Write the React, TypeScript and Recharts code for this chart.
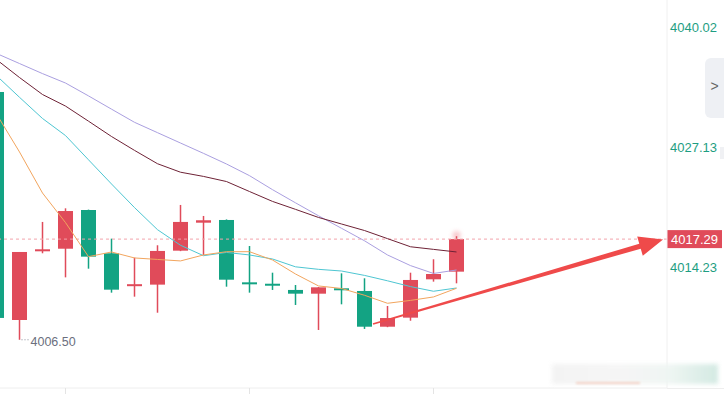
import React from "react";
import {
  ComposedChart,
  Bar,
  Line,
  XAxis,
  YAxis,
  ReferenceLine,
  ReferenceDot,
} from "recharts";

const RED = "#e04b5a";
const GREEN = "#13a383";
const AXIS_GREEN = "#1e9e82";

// candle index (x position)
const slots = [0, 1, 2, 3, 4, 5, 6, 7, 8, 9, 10, 11, 12, 13, 14, 15, 16, 17, 18, 19, 20];
const opens = [
  4033.06, 4008.62, 4016.04, 4016.26, 4020.41, 4015.77, 4012.3, 4012.41, 4016.05, 4019.05,
  4019.34, 4012.6, 4012.45, 4011.84, 4011.44, 4011.95, 4011.73, 4007.9, 4008.87, 4012.98, 4013.8,
];
const closes = [
  4008.84, 4015.91, 4016.14, 4020.3, 4015.41, 4011.87, 4012.4, 4016.02, 4019.13, 4019.31,
  4012.94, 4012.5, 4012.35, 4011.44, 4012.12, 4011.87, 4007.9, 4008.83, 4012.91, 4013.55, 4017.29,
];
const highs = [
  4033.3, 4015.91, 4019.13, 4020.59, 4020.45, 4017.34, 4015.3, 4016.63, 4020.95, 4019.77,
  4019.4, 4016.55, 4013.69, 4012.37, 4012.15, 4013.62, 4013.09, 4010.12, 4013.69, 4015.13, 4017.6,
];
const lows = [
  4008.6, 4006.5, 4015.77, 4013.19, 4014.12, 4011.55, 4011.12, 4009.4, 4016.0, 4015.59,
  4012.19, 4011.55, 4011.84, 4010.23, 4007.55, 4010.3, 4007.66, 4007.85, 4008.54, 4012.73, 4012.55,
];

// moving averages
const ma5 = [
  4030.7, 4026.63, 4022.23, 4019.06, 4015.41, 4015.91, 4015.27, 4015.11, 4014.95, 4015.59,
  4015.94, 4015.94, 4015.05, 4013.55, 4012.27, 4012.0, 4011.27, 4010.41, 4010.72, 4011.09, 4012.02,
];
const ma10 = [
  4034.81, 4032.49, 4030.22, 4028.39, 4025.79, 4023.2, 4020.67, 4018.3, 4016.63, 4015.51,
  4015.86, 4015.59, 4015.16, 4014.32, 4014.05, 4013.87, 4013.4, 4012.82, 4012.2, 4011.7, 4012.05,
];
const ma20 = [
  4036.53, 4034.61, 4032.79, 4031.55, 4029.93, 4028.29, 4026.8, 4025.37, 4024.46, 4024.01,
  4023.46, 4022.39, 4021.33, 4020.48, 4019.61, 4018.91, 4018.21, 4017.34, 4016.47, 4016.19, 4015.91,
];
const ma30 = [
  4037.19, 4036.11, 4035.03, 4034.02, 4032.64, 4031.22, 4029.81, 4028.7, 4027.59, 4026.48,
  4025.34, 4024.09, 4022.59, 4021.18, 4019.79, 4018.45, 4017.11, 4015.59, 4014.45, 4013.61, 4013.98,
];

const yTicks = [4040.02, 4027.13, 4014.23];
const xTicks = [3, 11, 19];
const lastPrice = 4017.29;
const lowMark = { i: 1, price: 4006.5 };
const arrowFrom = { x: 16.37, y: 4008.19 };
const arrowTo = { x: 28.98, y: 4017.25 };

const data = slots.map((i, k) => ({
  i,
  open: opens[k],
  close: closes[k],
  high: highs[k],
  low: lows[k],
  range: [lows[k], highs[k]],
  ma5: ma5[k],
  ma10: ma10[k],
  ma20: ma20[k],
  ma30: ma30[k],
}));

function Candle(props: any) {
  const { x, y, width, height, payload } = props;
  const { open, close, high, low } = payload;
  const color = close >= open ? RED : GREEN;
  const y0 = Math.min(y, y + height);
  const h = Math.abs(height);
  const span = high - low || 1;
  const toY = (v: number) => y0 + ((high - v) / span) * h;
  let top = toY(Math.max(open, close));
  let bot = toY(Math.min(open, close));
  if (bot - top < 2) {
    const m = (top + bot) / 2;
    top = m - 1;
    bot = m + 1;
  }
  const cx = x + width / 2;
  const isLast = payload.i === slots[slots.length - 1];
  return (
    <g>
      {isLast && (
        <circle cx={cx} cy={y0 - 1} r={4} fill="#f3a0a8" opacity={0.6} style={{ filter: "blur(2px)" }} />
      )}
      <rect x={cx - 0.75} y={y0} width={1.5} height={h} fill={color} />
      <rect x={x} y={top} width={width} height={bot - top} fill={color} />
    </g>
  );
}

function Arrow(props: any) {
  const { x1, y1, x2, y2 } = props;
  const dx = x2 - x1;
  const dy = y2 - y1;
  const len = Math.hypot(dx, dy) || 1;
  const ux = dx / len;
  const uy = dy / len;
  const px = -uy;
  const py = ux;
  const headLen = 24;
  const headW = 10;
  const bx = x2 - ux * headLen;
  const by = y2 - uy * headLen;
  const w0 = 0.8;
  const w1 = 2.6;
  const pts = [
    [x1 + px * w0, y1 + py * w0],
    [bx + px * w1, by + py * w1],
    [bx + px * headW, by + py * headW],
    [x2, y2],
    [bx - px * headW, by - py * headW],
    [bx - px * w1, by - py * w1],
    [x1 - px * w0, y1 - py * w0],
  ]
    .map((p) => p.join(","))
    .join(" ");
  return <polygon points={pts} fill="#ef4a4a" />;
}

function PriceTag(props: any) {
  const { viewBox } = props;
  const x = viewBox.x + viewBox.width;
  const y = viewBox.y;
  return (
    <g>
      <rect x={x} y={y - 9} width={55} height={18} fill={RED} />
      <text x={x + 27.5} y={y} dy="0.36em" textAnchor="middle" fill="#fff" fontSize={13}>
        {lastPrice.toFixed(2)}
      </text>
    </g>
  );
}

function LowTag(props: any) {
  const { cx, cy } = props;
  return (
    <g>
      <line x1={cx + 2} y1={cy} x2={cx + 10} y2={cy} stroke="#8a8d99" strokeDasharray="1 2" />
      <text x={cx + 11} y={cy + 2} dy="0.36em" fill="#6b6f7e" fontSize={12.5}>
        {lowMark.price.toFixed(2)}
      </text>
    </g>
  );
}

export default function App() {
  return (
    <div
      style={{
        position: "absolute",
        left: 0,
        top: 0,
        width: 724,
        height: 394,
        background: "#fff",
        fontFamily: "'Liberation Sans', Arial, sans-serif",
        overflow: "hidden",
      }}
    >
      <ComposedChart width={724} height={394} data={data} margin={{ top: 0, right: 0, bottom: 0, left: 0 }}>
        <XAxis
          dataKey="i"
          type="number"
          domain={[0.152, 29.152]}
          allowDataOverflow
          ticks={xTicks}
          tickFormatter={() => ""}
          tickSize={6}
          height={6}
          axisLine={{ stroke: "#eeeeee" }}
          tickLine={{ stroke: "#e4e4e4" }}
        />
        <YAxis
          orientation="right"
          width={57}
          domain={[4001.33, 4042.92]}
          allowDataOverflow
          ticks={yTicks}
          tickFormatter={(v: number) => v.toFixed(2)}
          tick={{ fill: AXIS_GREEN, fontSize: 13 }}
          tickSize={0}
          tickMargin={3}
          tickLine={false}
          axisLine={{ stroke: "#f0f0f0" }}
        />
        <ReferenceLine
          y={lastPrice}
          stroke="#f3a3ab"
          strokeDasharray="3 3"
          label={<PriceTag />}
        />
        <Bar dataKey="range" barSize={15} shape={<Candle />} isAnimationActive={false} />
        <Line dataKey="ma30" stroke="#aa9fe0" strokeWidth={1} dot={false} isAnimationActive={false} />
        <Line dataKey="ma20" stroke="#6e2236" strokeWidth={1} dot={false} isAnimationActive={false} />
        <Line dataKey="ma10" stroke="#4ec6d2" strokeWidth={1} dot={false} isAnimationActive={false} />
        <Line dataKey="ma5" stroke="#f2a55e" strokeWidth={1} dot={false} isAnimationActive={false} />
        <ReferenceDot x={lowMark.i} y={lowMark.price} r={0} shape={<LowTag />} />
        <ReferenceLine segment={[arrowFrom, arrowTo]} shape={<Arrow />} />
      </ComposedChart>
      {/* right edge tab */}
      <div
        style={{
          position: "absolute",
          left: 705,
          top: 58,
          width: 19,
          height: 60,
          background: "#eef0f4",
          borderRadius: "6px 0 0 6px",
          color: "#666",
          fontSize: 14,
          lineHeight: "56px",
          textAlign: "center",
        }}
      >
        &gt;
      </div>
      <div style={{ position: "absolute", left: 720, top: 147, width: 4, height: 12, background: "#f0f1f4" }} />
      {/* bottom line continuation under the axis */}
      <div style={{ position: "absolute", left: 667, top: 388, width: 57, height: 1, background: "#eeeeee" }} />
      {/* blurred watermark bottom right */}
      <div
        style={{
          position: "absolute",
          left: 552,
          top: 364,
          width: 166,
          height: 20,
          background: "linear-gradient(to right, #f2f2f2, #f5f5f5 40%, #eef5f2 70%, #cfe8e0)",
          filter: "blur(2px)",
          opacity: 0.9,
        }}
      />
      <div
        style={{
          position: "absolute",
          left: 576,
          top: 382,
          width: 64,
          height: 2,
          background: "#f3d2c6",
          filter: "blur(1px)",
        }}
      />
    </div>
  );
}
